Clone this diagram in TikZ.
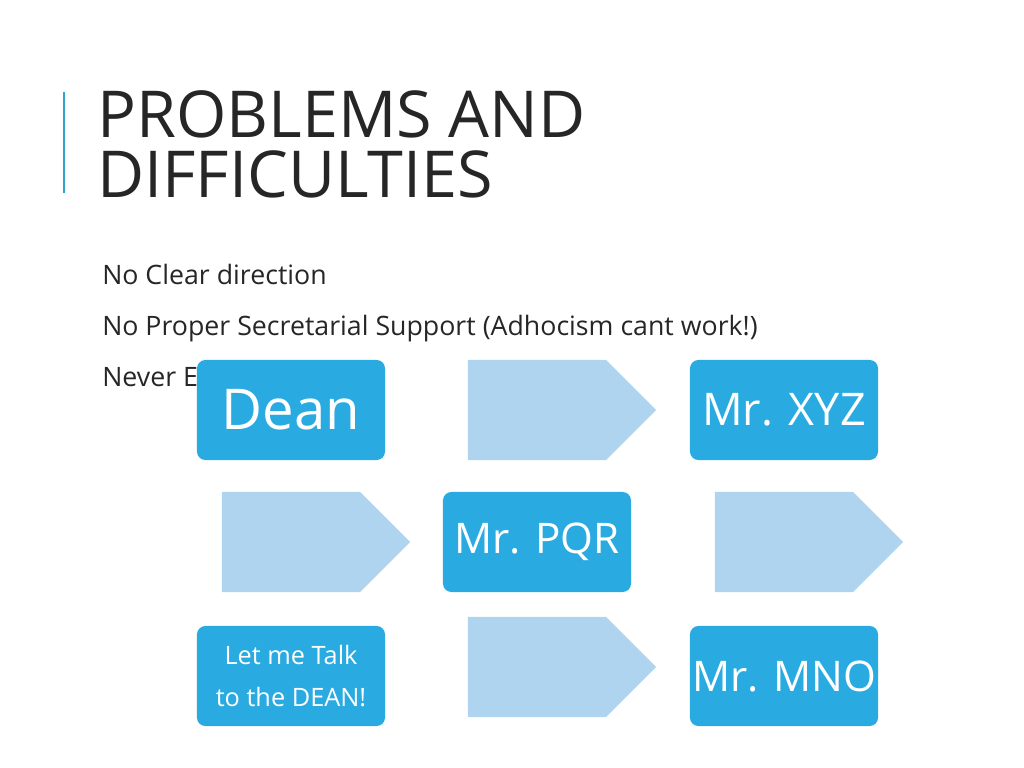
\documentclass[tikz,border=0pt]{standalone}
\usepackage{fontspec}
\setmainfont{Open Sans}
\usetikzlibrary{positioning,shapes.arrows}
\definecolor{boxblue}{HTML}{29ABE2}
\definecolor{arrowblue}{HTML}{AFD4EF}
\definecolor{titleline}{HTML}{2FA4C9}
\begin{document}
\begin{tikzpicture}
[
   x=0.025cm, y=-0.025cm,
   box/.style={rectangle, rounded corners=6pt, fill=boxblue, text=white,
     minimum width=4.7cm, minimum height=2.5cm, align=center, inner sep=0pt},
   arr/.style={single arrow, fill=arrowblue, shape border rotate=0,
     minimum width=2.5cm, minimum height=4.7cm, single arrow head extend=0pt,
     single arrow tip angle=90, inner sep=0pt},
   line/.style={text=black!85, anchor=base west, inner sep=0pt}
]
\useasboundingbox (0,0) rectangle (1024,768);
% title
\draw[titleline, line width=1.2pt] (64,92) -- (64,193);
\node[line, font=\fontsize{46}{50}\selectfont] (t1) at (97,138) {PROBLEMS AND};
\node[line, font=\fontsize{46}{50}\selectfont] (t2) at (97,197) {DIFFICULTIES};
% bullets
\node[line, font=\fontsize{19}{22}\selectfont] (b1) at (102,284) {No Clear direction};
\node[line, font=\fontsize{19}{22}\selectfont] (b2) at (102,335) {No Proper Secretarial Support (Adhocism cant work!)};
\node[line, font=\fontsize{19}{22}\selectfont] (b3) at (102,386) {Never Ever};
% boxes
\node[box, font=\fontsize{40}{44}\selectfont] (dean) at (291,410) {Dean};
\node[box, font=\fontsize{32}{36}\selectfont] (xyz) at (784,410) {Mr. XYZ};
\node[box, font=\fontsize{30}{34}\selectfont] (pqr) at (537,542) {Mr. PQR};
\node[box, font=\fontsize{18}{30}\selectfont] (talk) at (291,676) {Let me Talk\\to the DEAN!};
\node[box, font=\fontsize{30}{34}\selectfont] (mno) at (784,676) {Mr. MNO};
% arrows
\node[arr] (a1) at (537,410) {};
\node[arr] (a2) at (291,542) {};
\node[arr] (a3) at (784,542) {};
\node[arr] (a4) at (537,667) {};
\end{tikzpicture}
\end{document}
